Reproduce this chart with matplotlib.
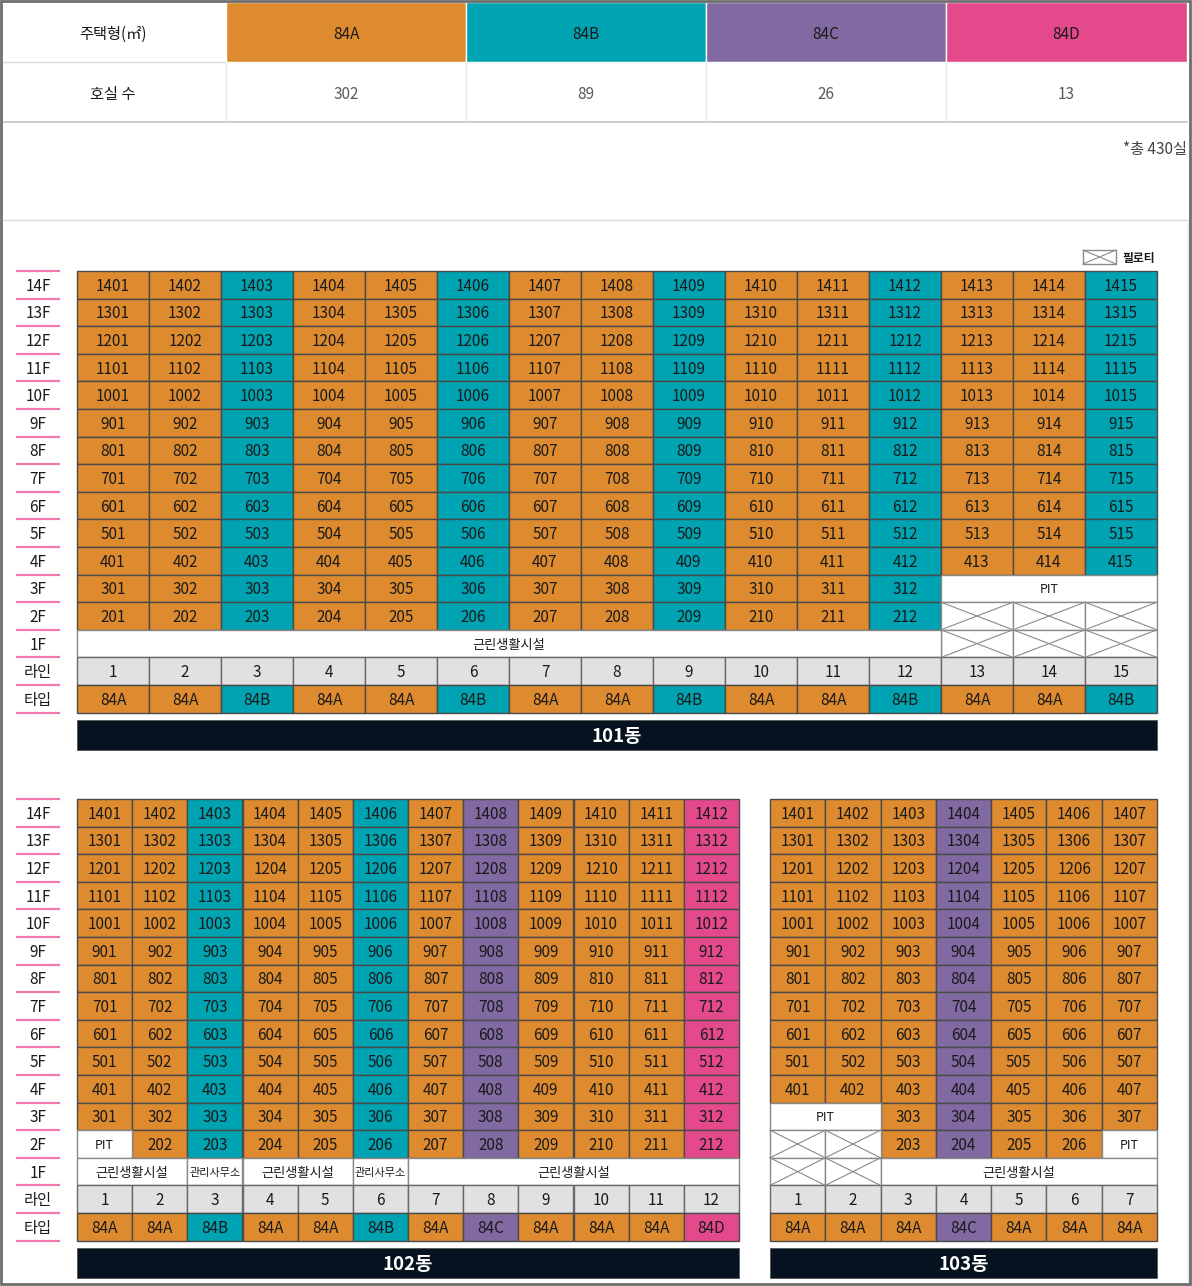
import matplotlib
matplotlib.use("Agg")
import matplotlib.pyplot as plt
from matplotlib.patches import Rectangle

plt.rcParams['font.family'] = ['Noto Sans CJK KR', 'DejaVu Sans']

# ---------------- data ----------------
HOUSE_TYPES = ['84A', '84B', '84C', '84D']
UNIT_COUNTS = [302, 89, 26, 13]
TOTAL_NOTE = '*총 430실'

FLOORS = [14, 13, 12, 11, 10, 9, 8, 7, 6, 5, 4, 3, 2]

B101_TYPES = ['84A', '84A', '84B', '84A', '84A', '84B', '84A', '84A', '84B',
              '84A', '84A', '84B', '84A', '84A', '84B']
B101_PIT = [(3, 13, 15)]                       # floor, first line, last line
B101_PILOTI = [(2, 13), (2, 14), (2, 15), (1, 13), (1, 14), (1, 15)]
B101_F1 = [(1, 12, '근린생활시설')]

B102_TYPES = ['84A', '84A', '84B', '84A', '84A', '84B', '84A', '84C', '84A',
              '84A', '84A', '84D']
B102_PIT = [(2, 1, 1)]
B102_PILOTI = []
B102_F1 = [(1, 2, '근린생활시설'), (3, 3, '관리사무소'), (4, 5, '근린생활시설'),
           (6, 6, '관리사무소'), (7, 12, '근린생활시설')]

B103_TYPES = ['84A', '84A', '84A', '84C', '84A', '84A', '84A']
B103_PIT = [(3, 1, 2), (2, 7, 7)]
B103_PILOTI = [(2, 1), (2, 2), (1, 1), (1, 2)]
B103_F1 = [(3, 7, '근린생활시설')]

BUILDINGS = ['101동', '102동', '103동']

# ---------------- style ----------------
COLORS = {'84A': '#DE8B2F', '84B': '#00A3B1', '84C': '#8169A1', '84D': '#E44A8B'}
GRID_EC = '#4a4a4a'
GRAY_CELL = '#E1E1E3'
BAR_COLOR = '#06121F'
PINK = '#F07AAE'
RH = 27.6
TY = 1.5   # small vertical text offset

fig = plt.figure(figsize=(11.92, 12.86), dpi=100)
ax = fig.add_axes([0, 0, 1, 1])
ax.set_xlim(0, 1192)
ax.set_ylim(1286, 0)
ax.axis('off')


def rect(x, y, w, h, fc, ec=GRID_EC, lw=1.0, z=2):
    ax.add_patch(Rectangle((x, y), w, h, facecolor=fc, edgecolor=ec, linewidth=lw, zorder=z))


def txt(x, y, s, size=11, color='#1a1a1a', weight='normal', ha='center'):
    ax.text(x, y + TY, s, ha=ha, va='center', fontsize=size, color=color, fontweight=weight, zorder=5)


def xcell(x, y, w, h):
    rect(x, y, w, h, 'white', ec='#8a8a8a', lw=1.0)
    ax.plot([x, x + w], [y, y + h], color='#8a8a8a', lw=0.8, zorder=3)
    ax.plot([x, x + w], [y + h, y], color='#8a8a8a', lw=0.8, zorder=3)


# ---------------- top table ----------------
col_edges = [2, 226, 466, 706, 946, 1187]
ax.plot([2, 1187], [62, 62], color='#dcdcdc', lw=1, zorder=1)
ax.plot([2, 1187], [122, 122], color='#c4c4c4', lw=1.2, zorder=1)
txt(113, 33, '주택형(㎡)', size=11)
txt(113, 93, '호실 수', size=11)
for i, (t, n) in enumerate(zip(HOUSE_TYPES, UNIT_COUNTS)):
    x0, x1 = col_edges[i + 1], col_edges[i + 2]
    ax.add_patch(Rectangle((x0, 2), x1 - x0, 60, facecolor=COLORS[t], edgecolor='white', lw=1, zorder=2))
    ax.plot([x0, x0], [62, 122], color='#e6e6e6', lw=1, zorder=1)
    txt((x0 + x1) / 2, 33, t, size=11)
    txt((x0 + x1) / 2, 93, str(n), size=11, color='#5a5a5a')
txt(1187, 148, TOTAL_NOTE, size=11, color='#444444', ha='right')
ax.plot([2, 1188], [220, 220], color='#dedede', lw=1, zorder=1)
ax.plot([1188, 1188], [220, 1282], color='#e4e4e4', lw=1, zorder=1)

# legend
xcell(1083, 250, 33, 14)
txt(1122, 257, '필로티', size=8.5, weight='bold', ha='left')


# ---------------- buildings ----------------
def floor_labels(y0):
    labels = [f'{f}F' for f in FLOORS] + ['1F', '라인', '타입']
    for r, lab in enumerate(labels):
        txt(38, y0 + (r + 0.5) * RH, lab, size=11)
    for r in range(len(labels) + 1):
        ax.plot([17, 59], [y0 + r * RH, y0 + r * RH], color=PINK, lw=1.6, zorder=2)


def building(x0, y0, cw, types, pits, piloti, f1, name):
    n = len(types)
    pit_cells = set()
    for f, a, b in pits:
        for c in range(a, b + 1):
            pit_cells.add((f, c))
    pil = set(piloti)

    def row_y(floor):
        return y0 + (14 - floor) * RH

    # units
    for f in FLOORS:
        for c in range(1, n + 1):
            if (f, c) in pit_cells or (f, c) in pil:
                continue
            x = x0 + (c - 1) * cw
            rect(x, row_y(f), cw, RH, COLORS[types[c - 1]])
            txt(x + cw / 2, row_y(f) + RH / 2, f'{f}{c:02d}')
    # PIT
    for f, a, b in pits:
        x = x0 + (a - 1) * cw
        w = (b - a + 1) * cw
        rect(x, row_y(f), w, RH, 'white', ec='#8a8a8a')
        txt(x + w / 2, row_y(f) + RH / 2, 'PIT', size=9)
    # piloti
    for f, c in piloti:
        xcell(x0 + (c - 1) * cw, row_y(f), cw, RH)
    # 1F facilities
    for a, b, label in f1:
        x = x0 + (a - 1) * cw
        w = (b - a + 1) * cw
        rect(x, row_y(1), w, RH, 'white', ec='#8a8a8a')
        size = 8 if label == '관리사무소' else 9.5
        txt(x + w / 2, row_y(1) + RH / 2, label, size=size)
    # line / type rows
    yl = row_y(1) + RH
    yt = yl + RH
    for c in range(1, n + 1):
        x = x0 + (c - 1) * cw
        rect(x, yl, cw, RH, GRAY_CELL, ec='#6a6a6a')
        txt(x + cw / 2, yl + RH / 2, str(c), size=11)
        rect(x, yt, cw, RH, COLORS[types[c - 1]])
        txt(x + cw / 2, yt + RH / 2, types[c - 1], size=11)
    # bar
    yb = yt + RH + 7
    ax.add_patch(Rectangle((x0, yb), n * cw, 30, facecolor=BAR_COLOR, edgecolor='#555555', lw=0.6, zorder=2))
    txt(x0 + n * cw / 2, yb + 15, name, size=13.5, color='white', weight='bold')


floor_labels(271)
building(77, 271, 72, B101_TYPES, B101_PIT, B101_PILOTI, B101_F1, BUILDINGS[0])
floor_labels(799)
building(77, 799, (739 - 77) / 12, B102_TYPES, B102_PIT, B102_PILOTI, B102_F1, BUILDINGS[1])
building(770, 799, (1157 - 770) / 7, B103_TYPES, B103_PIT, B103_PILOTI, B103_F1, BUILDINGS[2])

# outer frame
ax.add_patch(Rectangle((0.8, 0.8), 1189.5, 1283.5, facecolor='none', edgecolor='#6e6e6e', lw=2, zorder=6))

fig.savefig('out.png', dpi=100)
